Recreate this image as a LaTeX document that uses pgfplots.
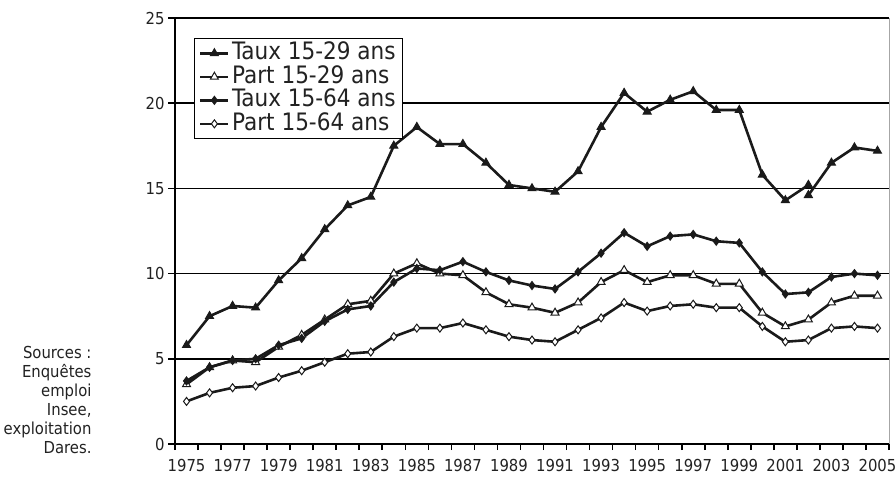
\documentclass[border=0pt]{standalone}
\usepackage{fontspec}
\setmainfont{DejaVu Sans Condensed}
\usepackage{pgfplots}
\pgfplotsset{compat=1.18}
\definecolor{ln}{HTML}{1A1A1A}
\definecolor{txt}{HTML}{222222}
\begin{document}
\begin{tikzpicture}
\begin{axis}[
  at={(0,0)}, anchor=south west,
  scale only axis, width=714bp, height=426bp,
  xmin=1974.5, xmax=2005.5, ymin=0, ymax=25,
  axis x line=bottom, axis y line=left,
  axis line style={-, line width=2.2bp, black},
  xtick={1975,1977,...,2005},
  xticklabels={1975,1977,1979,1981,1983,1985,1987,1989,1991,1993,1995,1997,1999,2001,2003,2005},
  minor xtick={1974.5,1975.5,...,2005.5},
  major x tick style={draw=none},
  minor x tick style={line width=1.6bp, black},
  minor tick length=6bp,
  ytick={0,5,...,25},
  y tick style={line width=1.6bp, black},
  major tick length=7bp,
  tick align=outside,
  ymajorgrids, grid style={black, line width=1.5bp},
  /pgf/number format/assume math mode=true,
  tick label style={font=\fontsize{16.5bp}{18bp}\selectfont, text=txt},
  xticklabel style={yshift=-5bp},
  legend style={at={(19/714,1-20/426)}, anchor=north west, draw=black, line width=1.2bp, fill=white,
    font=\fontsize{24bp}{24bp}\selectfont, inner xsep=4.5bp, inner ysep=3bp, row sep=0bp, text=txt,
    nodes={inner ysep=0.5bp, inner xsep=2.5bp, text height=17.5bp, text depth=5bp}},
  legend cell align=left,
  legend image code/.code={\draw[mark repeat=2,mark phase=2,#1] plot coordinates {(0bp,0bp) (14bp,0bp) (28bp,0bp)};},
  every axis plot/.append style={line width=2.6bp, color=ln},
]
\addplot[mark=triangle*, mark size=4.6bp, mark options={solid, fill=ln, line width=1bp}] coordinates {
(1975,5.8) (1976,7.5) (1977,8.1) (1978,8.0) (1979,9.6) (1980,10.9) (1981,12.6) (1982,14.0) (1983,14.5)
(1984,17.5) (1985,18.6) (1986,17.6) (1987,17.6) (1988,16.5) (1989,15.2) (1990,15.0) (1991,14.8)
(1992,16.0) (1993,18.6) (1994,20.6) (1995,19.5) (1996,20.2) (1997,20.7) (1998,19.6) (1999,19.6)
(2000,15.8) (2001,14.3) (2002,15.2)};
\addlegendentry{Taux 15-29 ans}
\addplot[mark=triangle*, mark size=4.6bp, mark options={solid, fill=white, line width=1bp}] coordinates {
(1975,3.5) (1976,4.5) (1977,4.9) (1978,4.8) (1979,5.7) (1980,6.4) (1981,7.3) (1982,8.2) (1983,8.4)
(1984,10.0) (1985,10.6) (1986,10.0) (1987,9.9) (1988,8.9) (1989,8.2) (1990,8.0) (1991,7.7)
(1992,8.3) (1993,9.5) (1994,10.2) (1995,9.5) (1996,9.9) (1997,9.9) (1998,9.4) (1999,9.4)
(2000,7.7) (2001,6.9) (2002,7.3) (2003,8.3) (2004,8.7) (2005,8.7)};
\addlegendentry{Part 15-29 ans}
\addplot[mark=diamond*, mark size=4bp, mark options={solid, fill=ln, line width=1bp}] coordinates {
(1975,3.7) (1976,4.5) (1977,4.9) (1978,5.0) (1979,5.8) (1980,6.2) (1981,7.2) (1982,7.9) (1983,8.1)
(1984,9.5) (1985,10.3) (1986,10.2) (1987,10.7) (1988,10.1) (1989,9.6) (1990,9.3) (1991,9.1)
(1992,10.1) (1993,11.2) (1994,12.4) (1995,11.6) (1996,12.2) (1997,12.3) (1998,11.9) (1999,11.8)
(2000,10.1) (2001,8.8) (2002,8.9) (2003,9.8) (2004,10.0) (2005,9.9)};
\addlegendentry{Taux 15-64 ans}
\addplot[mark=diamond*, mark size=4bp, mark options={solid, fill=white, line width=1bp}] coordinates {
(1975,2.5) (1976,3.0) (1977,3.3) (1978,3.4) (1979,3.9) (1980,4.3) (1981,4.8) (1982,5.3) (1983,5.4)
(1984,6.3) (1985,6.8) (1986,6.8) (1987,7.1) (1988,6.7) (1989,6.3) (1990,6.1) (1991,6.0)
(1992,6.7) (1993,7.4) (1994,8.3) (1995,7.8) (1996,8.1) (1997,8.2) (1998,8.0) (1999,8.0)
(2000,6.9) (2001,6.0) (2002,6.1) (2003,6.8) (2004,6.9) (2005,6.8)};
\addlegendentry{Part 15-64 ans}
\addplot[forget plot, mark=triangle*, mark size=4.6bp, mark options={solid, fill=ln, line width=1bp}] coordinates {
(2002,14.6) (2003,16.5) (2004,17.4) (2005,17.2)};
\end{axis}
\draw[gray!70, line width=1bp] (714bp,0bp) -- (714bp,426bp);
\node[anchor=east, align=right, text=txt, font=\fontsize{16.5bp}{19bp}\selectfont] at (-80bp,44.5bp)
  {Sources :\\Enquêtes\\emploi\\Insee,\\exploitation\\Dares.};
\pgfresetboundingbox
\path (-175bp,-35bp) rectangle (721bp,444bp);
\end{tikzpicture}
\end{document}
